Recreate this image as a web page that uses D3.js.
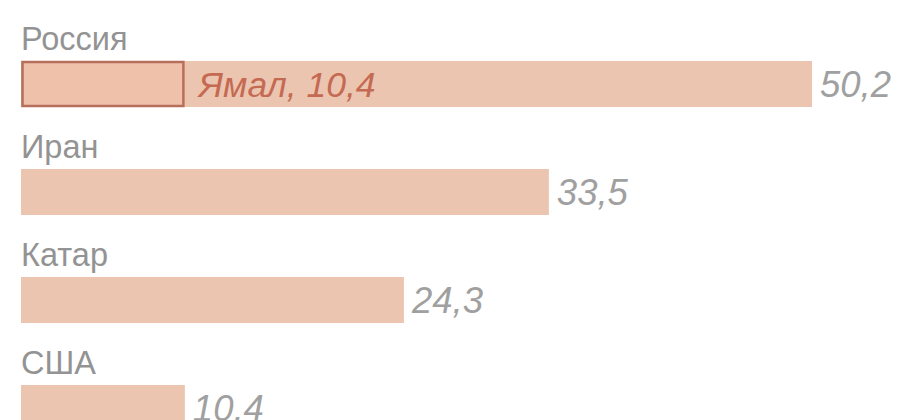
<!DOCTYPE html>
<html>
<head>
<meta charset="utf-8">
<script src="https://cdn.jsdelivr.net/npm/d3@7"></script>
<style>
  html, body { margin: 0; padding: 0; background: #ffffff; }
  svg { display: block; }
</style>
</head>
<body>
<svg id="chart" width="897" height="420"></svg>
<script>
const categories = ["Россия", "Иран", "Катар", "США"];
const values = [50.2, 33.5, 24.3, 10.4];
const valueLabels = ["50,2", "33,5", "24,3", "10,4"];
const highlightCategory = "Россия";
const highlightValue = 10.4;
const highlightLabel = "Ямал, 10,4";

const svg = d3.select("#chart");
const font = "'Liberation Sans', Arial, sans-serif";

const x = d3.scaleLinear().domain([0, 50.2]).range([21, 812]);
const y = d3.scaleBand().domain(categories).range([61, 431]).paddingInner(0.574).paddingOuter(0).align(0);

const data = categories.map((c, i) => ({ c, v: values[i], label: valueLabels[i] }));

const g = svg.append("g");

g.selectAll("rect.bar").data(data).enter().append("rect")
  .attr("class", "bar")
  .attr("x", x(0))
  .attr("y", d => y(d.c))
  .attr("width", d => x(d.v) - x(0))
  .attr("height", y.bandwidth())
  .attr("fill", "#ebc5b0");

g.selectAll("text.cat").data(data).enter().append("text")
  .attr("class", "cat")
  .attr("x", x(0))
  .attr("y", d => y(d.c) - 11)
  .attr("font-family", font)
  .attr("font-size", 32.5)
  .attr("fill", "#939393")
  .text(d => d.c);

g.selectAll("text.val").data(data).enter().append("text")
  .attr("class", "val")
  .attr("x", d => x(d.v) + 8)
  .attr("y", d => y(d.c) + y.bandwidth() / 2 + 13)
  .attr("font-family", font)
  .attr("font-size", 36.5)
  .attr("font-style", "italic")
  .attr("fill", "#a0a0a0")
  .text(d => d.label);

// Highlight (Yamal) box inside the Russia bar
g.append("rect")
  .attr("x", x(0) + 1.5)
  .attr("y", y(highlightCategory) + 1)
  .attr("width", x(highlightValue) - x(0) - 3)
  .attr("height", y.bandwidth() - 2)
  .attr("fill", "#f0c1aa")
  .attr("stroke", "#b56f5a")
  .attr("stroke-width", 2.5);

g.append("text")
  .attr("x", x(highlightValue) + 14)
  .attr("y", y(highlightCategory) + y.bandwidth() / 2 + 13)
  .attr("font-family", font)
  .attr("font-size", 35.5)
  .attr("font-style", "italic")
  .attr("fill", "#c56a52")
  .text(highlightLabel);
</script>
</body>
</html>
